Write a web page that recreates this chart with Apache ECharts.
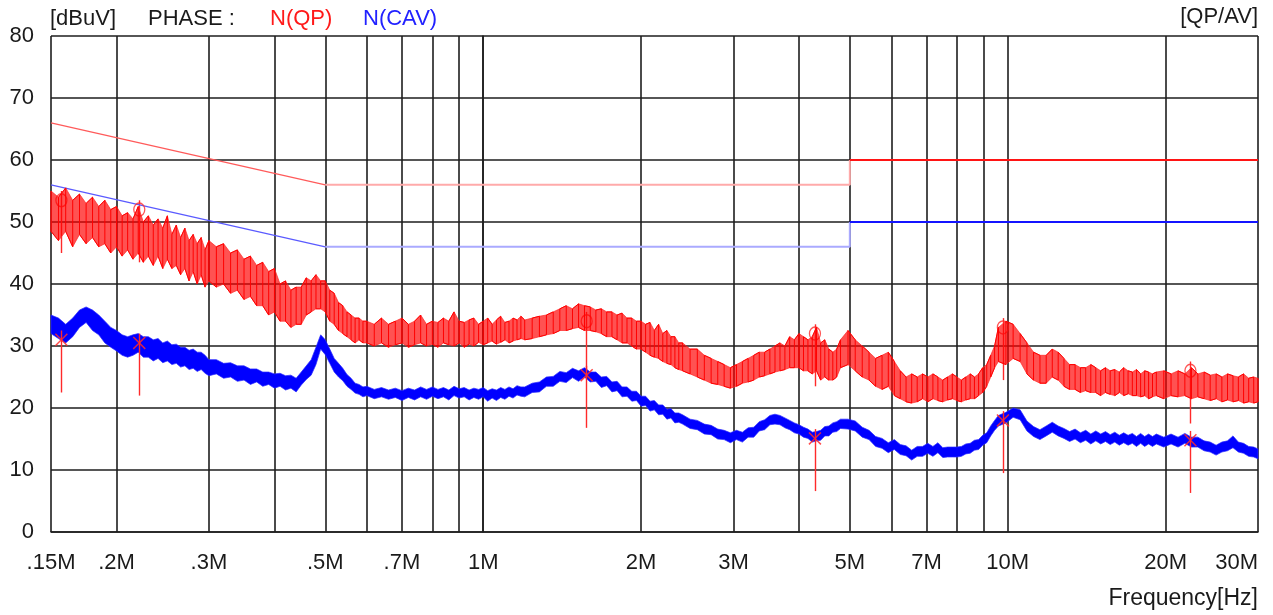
<!DOCTYPE html>
<html><head><meta charset="utf-8">
<script src="https://cdn.jsdelivr.net/npm/echarts@6/dist/echarts.min.js"></script>
<style>html,body{margin:0;padding:0;background:#fff;} #c{width:1273px;height:615px;}</style>
</head><body><div id="c"></div>
<script>
// ---- data ----
// measurement bins (MHz)
const freqMHz = [
0.150,0.155,0.160,0.165,0.170,0.175,0.180,0.185,0.190,0.195,0.200,0.205,0.210,0.215,0.220,0.225,0.230,0.235,0.240,0.245,0.250,0.255,0.260,0.265,0.270,0.275,0.280,0.285,0.290,0.295,
0.30,0.31,0.32,0.33,0.34,0.35,0.36,0.37,0.38,0.39,0.40,0.41,0.42,0.43,0.44,0.45,0.46,0.47,0.48,0.49,0.50,0.51,0.52,0.53,0.54,0.55,0.56,0.57,0.58,0.59,
0.60,0.62,0.64,0.66,0.68,0.70,0.72,0.74,0.76,0.78,0.80,0.82,0.84,0.86,0.88,0.90,0.92,0.94,0.96,0.98,1.00,1.02,1.04,1.06,1.08,1.10,1.12,1.14,1.16,1.18,
1.20,1.24,1.28,1.32,1.36,1.40,1.44,1.48,1.52,1.56,1.60,1.64,1.68,1.72,1.76,1.80,1.84,1.88,1.92,1.96,2.00,2.04,2.08,2.12,2.16,2.20,2.24,2.28,2.32,2.36,
2.40,2.48,2.56,2.64,2.72,2.80,2.88,2.96,3.04,3.12,3.20,3.28,3.36,3.44,3.52,3.60,3.68,3.76,3.84,3.92,4.00,4.08,4.16,4.24,4.32,4.40,4.48,4.56,4.64,4.72,
4.80,4.96,5.12,5.28,5.44,5.60,5.76,5.92,6.08,6.24,6.40,6.56,6.72,6.88,7.04,7.20,7.36,7.52,7.68,7.84,8.00,8.16,8.32,8.48,8.64,8.80,8.96,9.12,9.28,9.44,
9.60,9.92,10.24,10.56,10.88,11.20,11.52,11.84,12.16,12.48,12.80,13.12,13.44,13.76,14.08,14.40,14.72,15.04,15.36,15.68,16.00,16.32,16.64,16.96,17.28,17.60,17.92,18.24,18.56,18.88,
19.20,19.84,20.48,21.12,21.76,22.40,23.04,23.68,24.32,24.96,25.60,26.24,26.88,27.52,28.16,28.80,29.44,30.00
];
// QP trace: max / min reading in each bin (dBuV)
const qpMax = [
55,54,55.5,53.5,54.5,53,54,52.5,53.5,52,52.5,51,51.5,50.5,52.5,50,51,49.5,50.5,49,51,48,49.5,47.5,49,47,48,46.5,47.5,45.5,
47,46,46.5,45,45.5,44,44.5,43,43.5,42,42.5,40,40.5,39,39.5,39.5,41,40.5,41.5,40.5,40.5,39,38.5,37,36.5,35.5,35,34.5,34.5,34,
34,33.5,34.5,33.5,34,34.5,33.5,34,35,33.5,34,33.8,34.5,34,35.5,34,33.8,34.2,34.5,33.5,34,34.5,33.5,34.2,34.8,33.8,34,34.5,34.2,34.8,
34.2,34.5,34.8,35,35.5,36,36.5,36,36.8,36.5,36.3,35.8,36,35.5,35.5,35,35.3,34.5,34.5,34,34,33.5,33.8,32.5,33.5,32,32.5,31.5,31.5,30.5,
30.5,29.5,29.5,28.5,28,27.5,27,26.5,27,27.5,28,28.5,29,29,29.5,30,30.5,30,31.5,31,32,31.5,31,31.5,33,30.5,31,29.5,29,29.5,
31,32.5,31,30,29,28,28.5,29,27.5,26,25,25.5,25,25.5,25,25.5,25,24.5,25,25.5,25,24.5,25,25.5,25,25.5,26.5,27,28.5,30,
33,34,33.5,32,30.5,29,28.5,28.5,29.5,29,28,27,27,26.5,26.5,27,26.5,26,26.5,26,26.2,25.8,26.5,26,25.8,26.2,25.5,26,25.8,25.5,
25.8,26,25.5,26,25.5,26.5,25.5,25.8,25.3,25.5,25,25.5,25.2,25,25.5,24.8,25,24.8
];
const qpMin = [
48.5,47,48.5,46,48,46.5,47.5,46,46.5,45,46,44.5,45.5,44,45,43.5,44.5,43,44.5,42.5,44,42.5,43,41.5,42.5,40.5,42,40,41.5,39.5,
40.5,39.5,40,38.5,39,37.5,38,36.5,36.5,35,35.5,34,34,33,33.5,33.5,35,35.5,36,36,35.5,34,33.5,32.5,32,31.5,31,30.5,31,30.5,
30.5,30,30.5,29.8,30.2,30.5,29.8,30.2,30.5,30,30.3,29.8,30.5,30.2,30,30.5,29.8,30.3,30,30.6,30.2,30.5,30.8,30.3,30.6,31,30.5,30.8,31,31.2,
31,31.2,31.5,31.8,32,32.5,32.5,32.8,33,32.5,32.5,32.3,32,31.5,31.5,31,30.5,30.5,30,29.5,29.5,29,28.5,28.2,28,27.5,27.2,27,26.5,26.2,
26,25.5,25,24.5,24,23.8,23.5,23.2,23.5,24,24.2,24.5,25,25.2,25.5,25.8,26,26.2,26.5,26.5,26.5,26,26,25.5,26,24.5,25,24.5,24.5,25,
26.5,27,26,25,24.5,23.5,23,23.5,22,21.5,21,20.8,21,21.5,21,21.5,21.2,21,21.3,21.5,21.2,21,21.3,21.5,21.5,22,22.5,23.5,25,26.5,
27.5,27,28,27.5,25.5,24.5,24,24,25,24.5,23.5,23,23,22.5,22.8,22.5,22.5,22,22.5,22.2,22,22.5,22,22.3,22,22,21.8,22,21.5,21.8,
22,21.5,22,21.8,22,21.5,21.8,21.5,21.2,21.5,21,21.3,21,21.2,20.8,21,20.8,21
];
// CAV trace: max / min reading in each bin (dBuV)
const avMax = [
35,34.5,33.5,34.5,35.8,36.3,35.8,35,34,33,32.5,31.8,31.5,31.8,32,31.5,31.5,31,31.2,30.5,30.8,30.2,30.3,29.8,29.8,29.3,29.5,29,29,28.5,
27.8,27.8,27.2,27.3,26.8,26.8,26.3,26.3,25.8,25.8,25.5,25.6,25.2,25.3,24.8,25.8,26.8,27.8,29.8,31.8,31,29.5,28,27.2,26.4,25.4,24.8,24,23.8,23.4,
23.5,23,23.3,22.9,23.2,22.8,23.2,22.9,23.4,23,23.4,23,23.3,22.9,23.5,23.1,23.3,22.9,23.2,23,23.3,22.8,23.1,22.9,23.3,23,23.4,23.1,23.6,23.4,
23.4,24,24.2,25,25.1,25.9,25.7,26.4,26,26.5,25.8,25.8,25,25.1,24.2,24.3,23.4,23.4,22.7,22.7,21.9,21.9,21.1,21.2,20.5,20.5,19.8,19.9,19.2,19.2,
18.9,18.2,18,17.4,17.2,16.6,16.4,16,16.4,16.1,16.8,16.9,17.8,18.1,18.8,19,18.8,18.4,18,17.6,17.3,16.9,16.6,16.1,16.2,16.4,17,17.1,17.6,17.8,
18.2,18.2,17.9,16.9,16.4,15.4,15.1,14.4,14.9,14.1,13.9,13.2,13.8,13.8,14.3,13.8,14.4,13.6,13.7,13.7,13.7,13.8,14.2,14.3,14.8,14.9,15.6,16,17.1,18,
18.8,19.3,20,19.7,17.9,17,16.5,17.1,17.7,17.1,16.7,16.2,16.6,16,16.4,15.8,16.3,15.8,16.2,15.7,16.1,15.6,16,15.6,15.9,15.4,15.9,15.4,15.8,15.4,
15.8,15.3,15.8,15.3,15.9,15.3,15.3,14.7,14.5,14,14.5,14.7,15.5,14.5,14.3,13.8,13.7,13.4
];
const avMin = [
32,31.2,30.5,31.5,33,33.8,32.5,31.8,30.5,29.8,29.2,28.5,28.2,28.5,29,28.2,28.2,27.6,28,27.3,27.6,27,27.2,26.6,26.8,26.2,26.4,25.9,26.2,25.6,
25.2,25.5,24.8,25,24.3,24.5,23.8,24.2,23.5,23.8,23.2,23.5,22.9,23.2,22.6,23.7,24.6,25.3,27,29.5,28.6,27.2,25.8,25,24.4,23.5,23,22.4,22.2,21.8,
22,21.5,21.8,21.4,21.7,21.2,21.7,21.3,21.8,21.4,21.9,21.5,21.8,21.3,22,21.6,21.8,21.3,21.7,21.4,21.8,21.1,21.6,21.2,21.7,21.4,21.9,21.6,22.1,21.9,
21.8,22.5,22.6,23.5,23.5,24.3,24.1,24.9,24.3,25,24.2,24.3,23.3,23.6,22.6,22.8,21.8,21.9,21.1,21.2,20.3,20.4,19.5,19.7,18.9,19,18.2,18.4,17.6,17.7,
17.4,16.7,16.5,15.8,15.7,15,14.9,14.4,14.9,14.5,15.3,15.3,16.3,16.5,17.3,17.4,17.3,16.8,16.5,16,15.8,15.3,15.1,14.5,14.7,14.8,15.5,15.5,16.1,16.2,
16.7,16.6,16.3,15.3,14.9,13.8,13.5,12.8,13.3,12.5,12.3,11.6,12.2,12.2,12.7,12.2,12.8,12,12.1,12.1,12.1,12.2,12.6,12.7,13.2,13.3,14,14.4,15.5,16.4,
17.1,17.6,18.5,18.1,16.3,15.4,14.9,15.5,16.1,15.5,15.1,14.6,15,14.4,14.8,14.2,14.7,14.2,14.6,14.1,14.5,14,14.4,14,14.3,13.8,14.3,13.8,14.2,13.8,
14.2,13.7,14.2,13.7,14.3,13.7,13.7,13.1,12.9,12.4,12.9,13.1,13.6,12.9,12.7,12.2,12.1,11.8
];
const qpLimitFreq  = [0.15, 0.5, 5, 5, 30];
const qpLimitLevel = [66, 56, 56, 60, 60];
const avLimitFreq  = [0.15, 0.5, 5, 5, 30];
const avLimitLevel = [56, 46, 46, 50, 50];
const markerFreq = [0.157, 0.221, 1.575, 4.29, 9.79, 22.3];
const markerQP   = [53.5, 52, 34, 32, 33, 26];
const markerAV   = [31, 30.5, 25.3, 15.1, 18, 14.8];
const gridFreq  = [0.15,0.2,0.3,0.4,0.5,0.6,0.7,0.8,0.9,1,2,3,4,5,6,7,8,9,10,20,30];
const labelFreq = [0.15,0.2,0.3,0.5,0.7,1,2,3,5,7,10,20,30];
const labelText = ['.15M','.2M','.3M','.5M','.7M','1M','2M','3M','5M','7M','10M','20M','30M'];
const yMin = 0, yMax = 80, yStep = 10;

// ---- chart ----
const lg = Math.log10;
const FONT = '"Liberation Sans", Arial, sans-serif';
const GRID_COLOR = '#1e1e1e';
function pairs(fs, vs, a, b) {
  const out = [];
  for (let i = a; i <= b; i++) out.push([lg(fs[i]), vs[i]]);
  return out;
}
// each bin drawn as a vertical stroke between its max and min reading
function binTrace(fs, hi, lo) {
  const out = [];
  for (let i = 0; i < fs.length; i++) {
    if (i % 2 === 0) { out.push([lg(fs[i]), hi[i]]); out.push([lg(fs[i]), lo[i]]); }
    else { out.push([lg(fs[i]), lo[i]]); out.push([lg(fs[i]), hi[i]]); }
  }
  return out;
}
function lineSeries(data, color, width, z) {
  return { type: 'line', data, showSymbol: false, symbol: 'none', silent: true,
    lineStyle: { color, width }, itemStyle: { color }, z: z || 2, animation: false };
}
// filled band between the min and max readings of every bin
function bandSeries(hi, lo, fill, stroke, z) {
  return {
    type: 'custom', z, silent: true, animation: false, data: [[lg(freqMHz[0]), lo[0]]],
    renderItem: (params, api) => {
      const pts = [];
      for (let i = 0; i < freqMHz.length; i++) pts.push(api.coord([lg(freqMHz[i]), hi[i]]));
      for (let i = freqMHz.length - 1; i >= 0; i--) pts.push(api.coord([lg(freqMHz[i]), lo[i]]));
      return { type: 'polygon', shape: { points: pts }, style: { fill, stroke, lineWidth: 1 } };
    }
  };
}
const xPath = 'path://M0,0.8 L0.8,0 L5,4.2 L9.2,0 L10,0.8 L5.8,5 L10,9.2 L9.2,10 L5,5.8 L0.8,10 L0,9.2 L4.2,5 Z';
const markLines = (vals, z) => ({
  silent: true, symbol: ['none', 'none'], animation: false, label: { show: false }, z,
  lineStyle: { color: '#ff2a2a', width: 1.4, type: 'solid' },
  data: markerFreq.map((f, i) => [{ coord: [lg(f), vals[i] + 1.5] }, { coord: [lg(f), vals[i] - 8.5] }])
});

const chart = echarts.init(document.getElementById('c'), null, { renderer: 'canvas' });
chart.setOption({
  animation: false,
  backgroundColor: '#ffffff',
  grid: { left: 51, right: 15, top: 36, bottom: 83, containLabel: false, outerBoundsMode: 'none' },
  xAxis: {
    type: 'value', min: lg(0.15), max: lg(30),
    axisLine: { show: true, lineStyle: { color: GRID_COLOR, width: 1.6 } },
    axisTick: { show: false, customValues: gridFreq.map(lg) },
    splitLine: { show: true, lineStyle: { color: GRID_COLOR, width: 1.6 } },
    axisLabel: {
      customValues: labelFreq.map(lg), margin: 20, fontSize: 22, fontFamily: FONT, color: '#1a1a1a',
      alignMaxLabel: 'right',
      formatter: (v) => { for (let i = 0; i < labelFreq.length; i++) if (Math.abs(lg(labelFreq[i]) - v) < 1e-6) return labelText[i]; return ''; }
    }
  },
  yAxis: {
    type: 'value', min: yMin, max: yMax, interval: yStep,
    axisLine: { show: true, lineStyle: { color: GRID_COLOR, width: 1.6 } },
    axisTick: { show: false },
    splitLine: { show: true, lineStyle: { color: GRID_COLOR, width: 1.6 } },
    axisLabel: { margin: 17, fontSize: 22, fontFamily: FONT, color: '#1a1a1a' }
  },
  graphic: [
    { type: 'text', x: 50, y: 19, style: { text: '[dBuV]', font: '22px ' + FONT, fill: '#1a1a1a', verticalAlign: 'middle', align: 'left' } },
    { type: 'text', x: 148, y: 19, style: { text: 'PHASE :', font: '22px ' + FONT, fill: '#1a1a1a', verticalAlign: 'middle', align: 'left' } },
    { type: 'text', x: 270, y: 19, style: { text: 'N(QP)', font: '22px ' + FONT, fill: '#ff1a1a', verticalAlign: 'middle', align: 'left' } },
    { type: 'text', x: 363, y: 19, style: { text: 'N(CAV)', font: '22px ' + FONT, fill: '#2222ff', verticalAlign: 'middle', align: 'left' } },
    { type: 'text', x: 1258, y: 17, style: { text: '[QP/AV]', font: '22px ' + FONT, fill: '#1a1a1a', verticalAlign: 'middle', align: 'right' } },
    { type: 'text', x: 1258, y: 599, style: { text: 'Frequency[Hz]', font: '23px ' + FONT, fill: '#1a1a1a', verticalAlign: 'middle', align: 'right' } }
  ],
  series: [
    lineSeries(pairs(qpLimitFreq, qpLimitLevel, 0, 1), '#ff5a5a', 1.2, 3),
    lineSeries(pairs(qpLimitFreq, qpLimitLevel, 1, 3), '#ffaaaa', 2, 3),
    lineSeries(pairs(qpLimitFreq, qpLimitLevel, 3, 4), '#ff1414', 2, 3),
    lineSeries(pairs(avLimitFreq, avLimitLevel, 0, 1), '#5a5aff', 1.2, 3),
    lineSeries(pairs(avLimitFreq, avLimitLevel, 1, 3), '#aaaaff', 2, 3),
    lineSeries(pairs(avLimitFreq, avLimitLevel, 3, 4), '#1414ff', 2, 3),
    { type: 'scatter', z: 3, silent: true, animation: false,
      data: markerFreq.map((f, i) => [lg(f), markerQP[i]]),
      symbol: 'circle', symbolSize: [11, 13],
      itemStyle: { color: 'rgba(0,0,0,0)', borderColor: '#ff2a2a', borderWidth: 1.4 },
      markLine: markLines(markerQP, 3) },
    bandSeries(qpMax, qpMin, 'rgba(255,0,0,0.68)', 'rgba(255,40,40,0.7)', 4),
    lineSeries(binTrace(freqMHz, qpMax, qpMin), '#ff0000', 1, 5),
    bandSeries(avMax, avMin, '#0000ff', 'rgba(40,40,255,0.7)', 5),
    { type: 'scatter', z: 6, silent: true, animation: false,
      data: markerFreq.map((f, i) => [lg(f), markerAV[i]]),
      symbol: xPath, symbolSize: 13,
      itemStyle: { color: '#ff2a2a', opacity: 0.85 },
      markLine: markLines(markerAV, 6) }
  ]
});
</script>
</body></html>
